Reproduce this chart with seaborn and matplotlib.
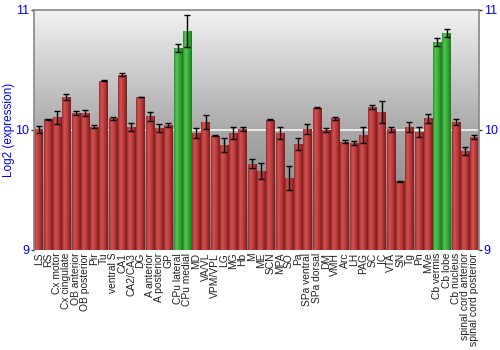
import numpy as np
import pandas as pd
import matplotlib
matplotlib.use("Agg")
import matplotlib.pyplot as plt
import seaborn as sns
from matplotlib.colors import LinearSegmentedColormap

regions = ["LS", "RS", "Cx motor", "Cx cingulate", "OB anterior", "OB posterior", "Pir", "Tu",
           "ventral S", "CA1", "CA2/CA3", "DG", "A anterior", "A posterior", "GP", "CPu lateral",
           "CPu medial", "MD", "VA/VL", "VPM/VPL", "LG", "MG", "Hb", "M", "ME", "SCN", "MPA", "SO",
           "Pa", "SPa ventral", "SPa dorsal", "DM", "VMH", "Arc", "LH", "PAG", "SC", "IC", "VTA",
           "SN", "Tg", "Pn", "MVe", "Cb vermis", "Cb lobe", "Cb nucleus", "spinal cord anterior",
           "spinal cord posterior"]
expression = [10.005, 10.089, 10.105, 10.275, 10.142, 10.145, 10.028, 10.41,
              10.097, 10.461, 10.025, 10.275, 10.114, 10.017, 10.044, 10.686,
              10.825, 9.975, 10.067, 9.953, 9.875, 9.975, 10.008, 9.72, 9.658, 10.086, 9.975, 9.597,
              9.883, 10.008, 10.186, 10.0, 10.097, 9.903, 9.894, 9.958, 10.192, 10.15, 10.005,
              9.572, 10.025, 9.983, 10.097, 10.733, 10.806, 10.069, 9.825,
              9.942]
error = [0.03, 0.005, 0.055, 0.022, 0.02, 0.025, 0.01, 0.004,
         0.01, 0.01, 0.036, 0.004, 0.037, 0.036, 0.015, 0.032,
         0.13, 0.039, 0.061, 0.005, 0.061, 0.047, 0.02, 0.04, 0.067, 0.005, 0.046, 0.1,
         0.047, 0.039, 0.005, 0.02, 0.015, 0.015, 0.015, 0.067, 0.018, 0.092, 0.02,
         0.003, 0.044, 0.04, 0.039, 0.033, 0.033, 0.024, 0.036,
         0.018]
highlight = ["CPu lateral", "CPu medial", "Cb vermis", "Cb lobe"]
y_ticks = [9, 10, 11]

df = pd.DataFrame({"region": regions, "expression": expression, "error": error})
df["group"] = np.where(df["region"].isin(highlight), "green", "red")

fig = plt.figure(figsize=(5, 3.5), dpi=100)
ax = fig.add_axes([34 / 500, 1 - 250 / 350, 445 / 500, 240 / 350])

# background gradient
bg = LinearSegmentedColormap.from_list("bg", ["#f2f2f2", "#a9a9a9", "#7a7a7a"])
grad = np.linspace(0, 1, 256).reshape(-1, 1)
ax.imshow(grad, cmap=bg, aspect="auto", extent=[0, 1, 0, 1], transform=ax.transAxes,
          zorder=0, origin="upper")

sns.barplot(data=df, x="region", y="expression", hue="group",
            palette={"red": "#b03a3a", "green": "#3aa83a"}, dodge=False,
            width=0.9, legend=False, ax=ax, zorder=2, errorbar=None)
ax.set_ylim(9, 11)

red_cm = LinearSegmentedColormap.from_list("r", ["#9a2a2a", "#cf5252", "#c44444", "#a83030", "#7c1c1c"])
green_cm = LinearSegmentedColormap.from_list("g", ["#2a8f2a", "#55c455", "#42b442", "#2f9a2f", "#1c7a1c"])
hgrad = np.linspace(0, 1, 64).reshape(1, -1)
for p in list(ax.patches):
    x0, y0 = p.get_x(), p.get_y()
    w, h = p.get_width(), p.get_height()
    cx = x0 + w / 2
    idx = int(round(cx))
    cm = green_cm if regions[idx] in highlight else red_cm
    im = ax.imshow(hgrad, cmap=cm, aspect="auto", extent=[x0, x0 + w, 9, y0 + h],
                   zorder=2.5, origin="lower")
    im.set_clip_path(p)

ax.errorbar(x=np.arange(len(regions)), y=df["expression"], yerr=df["error"],
            fmt="none", ecolor="black", elinewidth=1, capsize=2.5, capthick=1, zorder=4)

ax.axhline(10, color="#f4f4f4", lw=1.2, zorder=1)
ax.set_xlim(-0.5, len(regions) - 0.5)
ax.set_ylim(9, 11)

ax.set_yticks(y_ticks)
ax.set_yticklabels([str(t) for t in y_ticks])
ax.tick_params(axis="y", which="both", colors="#333333", labelcolor="#0000ff",
               labelsize=9, length=2.5, pad=1, left=True, right=True, labelleft=True,
               labelright=True, direction="out", width=1)
ax.tick_params(axis="x", length=0, labelsize=7.4, pad=2)
ax.set_xticks(np.arange(len(regions)))
ax.set_xticklabels(regions, rotation=90, fontfamily="Liberation Sans", color="#222222")
for t in ax.yaxis.get_major_ticks():
    t.label2.set_fontfamily("Liberation Sans")
    t.label1.set_fontfamily("Liberation Sans")
ax.set_xlabel("")
ax.set_ylabel("Log2 (expression)", color="#0000ff", fontsize=8.5, fontfamily="Liberation Sans")
ax.yaxis.set_label_coords(-0.043, 0.5)

for s in ["left", "right", "top"]:
    ax.spines[s].set_color("#888888")
    ax.spines[s].set_linewidth(1.2)
ax.spines["bottom"].set_visible(False)
for sp in ax.spines.values():
    sp.set_zorder(5)

fig.savefig("out.png", dpi=100)
